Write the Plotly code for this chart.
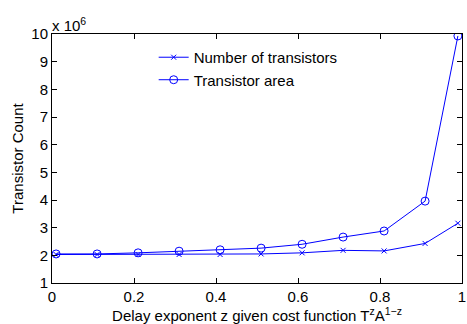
import plotly.graph_objects as go

z_values = [0.01, 0.11, 0.21, 0.31, 0.41, 0.51, 0.61, 0.71, 0.81, 0.91, 0.99]
num_transistors = [2.03, 2.03, 2.03, 2.03, 2.03, 2.05, 2.09, 2.18, 2.16, 2.43, 3.16]  # x 10^6
transistor_area = [2.05, 2.05, 2.09, 2.15, 2.20, 2.26, 2.40, 2.66, 2.88, 3.96, 9.93]  # x 10^6
x_ticks = [0, 0.2, 0.4, 0.6, 0.8, 1]
x_ticklabels = ["0", "0.2", "0.4", "0.6", "0.8", "1"]
y_ticks = [1, 2, 3, 4, 5, 6, 7, 8, 9, 10]

blue = "rgb(0,0,255)"
font = "Liberation Sans, Arial, sans-serif"
fs = 15

fig = go.Figure()
fig.add_trace(go.Scatter(x=z_values, y=num_transistors, mode="lines+markers",
                         name="Number of transistors",
                         line=dict(color=blue, width=1),
                         marker=dict(symbol="x-thin-open", size=5, color=blue,
                                     line=dict(color=blue, width=1))))
fig.add_trace(go.Scatter(x=z_values, y=transistor_area, mode="lines+markers",
                         name="Transistor area",
                         line=dict(color=blue, width=1),
                         marker=dict(symbol="circle-open", size=8, color=blue,
                                     line=dict(color=blue, width=1))))

axis_common = dict(showline=True, linecolor="black", linewidth=1, mirror="ticks",
                   ticks="inside", ticklen=5, tickcolor="black", showgrid=False,
                   zeroline=False, tickfont=dict(size=fs, color="black", family=font))

fig.update_xaxes(range=[0, 1], tickvals=x_ticks, ticktext=x_ticklabels,
                 title=dict(text="Delay exponent z given cost function T<sup>z</sup>A<sup>1−z</sup>",
                            font=dict(size=fs, color="black", family=font), standoff=2),
                 **axis_common)
fig.update_yaxes(range=[1, 10], tickvals=y_ticks,
                 title=dict(text="Transistor Count",
                            font=dict(size=fs, color="black", family=font), standoff=4),
                 **axis_common)

fig.add_annotation(xref="paper", yref="paper", x=0, y=1, xanchor="left", yanchor="bottom",
                   text="x 10<sup>6</sup>", showarrow=False,
                   font=dict(size=fs, color="black", family=font), yshift=-2, xshift=-2)

fig.update_layout(width=467, height=324,
                  margin=dict(l=52, r=5, t=34, b=41, autoexpand=False),
                  paper_bgcolor="white", plot_bgcolor="white",
                  font=dict(family=font, color="black"),
                  legend=dict(x=0.248, y=0.972, xanchor="left", yanchor="top",
                              bgcolor="rgba(0,0,0,0)", borderwidth=0,
                              font=dict(size=fs, color="black", family=font),
                              tracegroupgap=0, itemwidth=30))

fig.write_html("out.html", config={"displayModeBar": False},
               post_script="document.body.style.margin='0';document.body.style.overflow='hidden';")
